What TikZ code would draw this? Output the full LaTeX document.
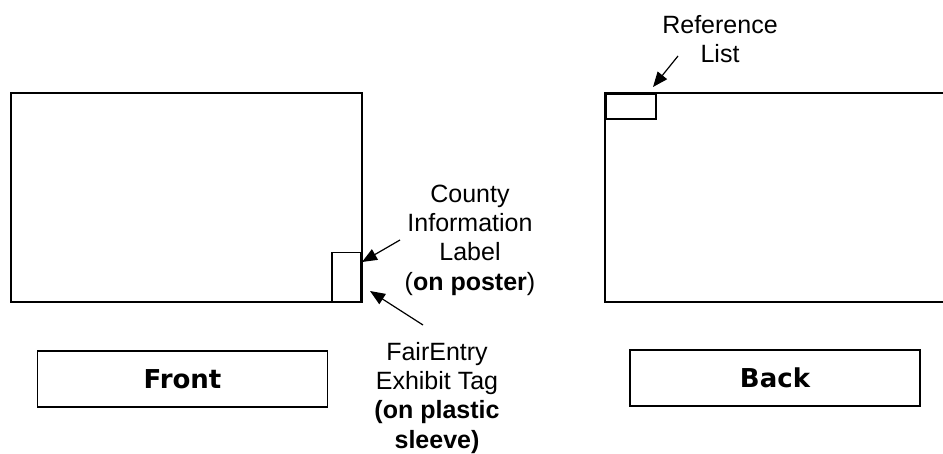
\documentclass[tikz,border=0pt]{standalone}
\usepackage{fontspec}
\setmainfont{Liberation Sans}
\newfontfamily\titlefont{DejaVu Sans}
\usetikzlibrary{arrows.meta}
\tikzset{
  frame/.style={draw=black, line width=1.5pt},
  tagbox/.style={draw=black, line width=1.5pt},
  lbl/.style={align=center, inner sep=0pt, anchor=north, font=\fontsize{25}{29.3}\selectfont},
  ttl/.style={font=\titlefont\bfseries\fontsize{26}{30}\selectfont},
  pointer/.style={draw=black, line width=1.2pt, -{Triangle[length=15pt,width=12pt]}}
}
\begin{document}
\begin{tikzpicture}[x=1pt,y=-1pt]
\useasboundingbox (0,0) rectangle (943,453);
% front poster
\draw[frame] (11,93) rectangle (362,302);
\node[draw=black, line width=1.5pt, minimum width=29pt, minimum height=49pt, inner sep=0pt, anchor=south east] (tag) at (361.5,302) {};
\coordinate (tagtop) at (362,262);
\coordinate (tagside) at (370,291);
% back poster
\draw[frame] (956,93) -- (605,93) -- (605,302) -- (956,302);
\node[draw=black, line width=1.5pt, minimum width=50pt, minimum height=25pt, inner sep=0pt, anchor=north west] (ref) at (605,93) {};
\coordinate (reftip) at (653,87);
% labels
\node[lbl] (county) at (470,184.5) {County\\Information\\Label\\(\textbf{on poster})};
\node[lbl] (fair) at (437,342) {FairEntry\\Exhibit Tag\\\textbf{(on plastic}\\\textbf{sleeve)}};
\node[lbl] (reflbl) at (720,15) {Reference\\List};
\coordinate (a1) at (400,240);
\coordinate (a2) at (423,325);
\coordinate (a3) at (678,56);
\draw[pointer] (a1) -- (tagtop);
\draw[pointer] (a2) -- (tagside);
\draw[pointer] (a3) -- (reftip);
% titles
\node[tagbox, minimum width=290pt, minimum height=56pt, inner sep=0pt] (front) at (182.5,379) {};
\node[ttl] at (front.center) {Front};
\node[tagbox, minimum width=290pt, minimum height=56pt, inner sep=0pt] (back) at (775,378) {};
\node[ttl] at (back.center) {Back};
\end{tikzpicture}
\end{document}
